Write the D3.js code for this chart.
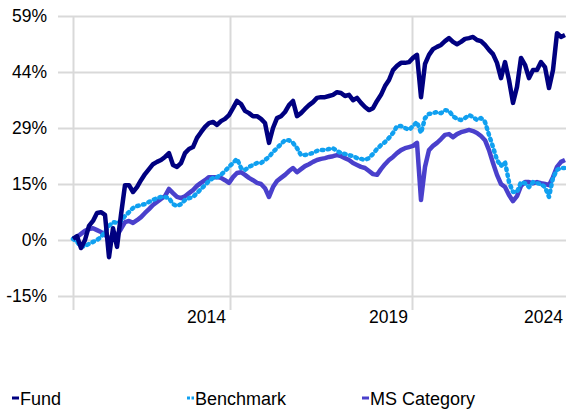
<!DOCTYPE html>
<html>
<head>
<meta charset="utf-8">
<script src="https://cdn.jsdelivr.net/npm/d3@7"></script>
<style>
  body { margin: 0; background: #fff; }
  svg { display: block; font-family: "Liberation Sans", Arial, sans-serif; }
</style>
</head>
<body>
<svg></svg>
<script>
var width = 566;
var height = 410;

// cumulative return (%), evenly spaced observations
var fund = [0.3, 1.0, -2.1, 0, 3.7, 5.0, 7.1, 7.3, 6.6, -4.5, 3.1, -1.8, 6.6, 14.4, 14.4, 12.6,
  13.9, 15.7, 17.3, 18.6, 19.9, 20.5, 21.0, 21.8, 22.8, 19.7, 19.2, 20.2, 22.8, 23.9, 24.4, 26.8,
  28.3, 29.7, 30.7, 31.0, 30.2, 31.2, 31.8, 32.8, 34.6, 36.5, 35.7, 33.9, 33.3, 32.5, 32.5, 31.8,
  30.7, 25.5, 29.4, 32.0, 32.5, 33.6, 35.4, 36.5, 32.5, 33.3, 34.4, 35.4, 36.2, 37.3, 37.5, 37.5,
  37.8, 38.1, 38.8, 38.6, 37.8, 38.1, 36.7, 37.3, 36.0, 34.9, 34.1, 34.6, 36.5, 38.1, 40.4, 42.0,
  44.6, 45.7, 46.5, 46.5, 46.7, 47.8, 48.6, 37.5, 46.2, 48.6, 50.1, 50.7, 51.2, 52.2, 53.0, 52.0,
  51.4, 52.0, 52.8, 53.0, 53.3, 52.5, 52.2, 51.2, 49.9, 48.8, 46.5, 42.5, 46.7, 42.0, 36.0, 40.2,
  47.8, 46.0, 42.5, 44.6, 44.6, 46.7, 45.4, 39.9, 44.6, 54.3, 53.3, 53.8];

var benchmark = [0.3, -0.5, -1.8, -1.6, -1.0, -0.5, 0, 0.8, 2.1, 3.7, 4.7, 4.5, 5.0, 6.3, 7.3, 8.4,
  8.9, 9.2, 9.4, 10.0, 10.5, 11.0, 11.3, 11.3, 11.0, 9.4, 8.9, 9.4, 10.5, 11.0, 11.3, 12.3,
  13.4, 14.4, 15.5, 16.3, 16.5, 17.1, 18.1, 19.2, 20.2, 21.3, 18.9, 18.4, 19.2, 19.7, 20.2, 20.2,
  21.0, 21.8, 23.1, 24.1, 25.2, 26.2, 26.2, 25.5, 24.1, 22.3, 22.3, 22.6, 22.8, 23.4, 23.6, 23.6,
  23.9, 24.1, 23.4, 22.8, 22.6, 22.3, 22.0, 21.5, 21.3, 21.0, 21.5, 22.6, 23.9, 24.9, 25.7, 26.8,
  28.1, 29.9, 29.9, 29.4, 28.9, 29.9, 31.0, 28.1, 32.0, 33.1, 33.3, 33.6, 33.3, 34.1, 33.9, 32.5,
  31.8, 31.5, 32.0, 32.8, 32.3, 31.5, 32.0, 31.0, 27.6, 24.4, 21.0, 19.4, 20.5, 15.2, 12.6, 12.6,
  15.2, 14.9, 13.9, 15.2, 14.9, 14.7, 13.9, 11.3, 16.3, 18.4, 18.9, 18.9];

var msCategory = [0.3, 0.8, 1.6, 2.4, 2.9, 3.1, 2.6, 2.1, 1.3, 0.5, 0.8, 1.3, 2.9, 4.7, 5.0, 4.5,
  5.2, 6.0, 7.1, 8.1, 9.2, 10.0, 10.8, 11.5, 13.4, 12.3, 11.3, 11.0, 11.5, 12.3, 13.1, 14.2,
  15.0, 15.7, 16.5, 16.5, 16.5, 16.3, 15.7, 15.0, 16.5, 17.6, 17.8, 17.1, 16.3, 15.7, 15.0, 14.7,
  13.6, 11.3, 13.9, 15.5, 16.3, 17.1, 18.1, 18.9, 17.8, 18.6, 19.4, 19.9, 20.5, 21.0, 21.3, 21.5,
  21.8, 22.0, 22.3, 22.0, 21.5, 21.0, 20.2, 19.7, 19.2, 18.9, 18.1, 17.3, 17.1, 18.6, 19.9, 21.0,
  21.8, 22.8, 23.6, 24.1, 24.4, 24.7, 25.5, 10.5, 19.2, 23.6, 24.7, 25.5, 26.5, 27.6, 27.8, 27.0,
  27.8, 28.3, 28.6, 28.9, 28.6, 28.1, 27.3, 26.2, 23.6, 20.2, 17.1, 14.7, 13.9, 11.8, 10.2, 11.5,
  14.2, 15.2, 15.2, 14.9, 15.2, 14.9, 14.7, 14.4, 16.5, 19.2, 20.5, 21.0];

var yTicks = [-14.7, 0, 14.7, 29.4, 44.1, 58.8];
var xTickIdx = [0, 39.25, 84.75, 123.5];
var xLabelIdx = [39.25, 84.75, 123.5];
var xLabels = ["2014", "2019", "2024"];

var seriesNames = ["Fund", "Benchmark", "MS Category"];
var seriesColors = ["#000080", "#10a0f0", "#4a40cc"];

var svg = d3.select("svg")
    .attr("width", width)
    .attr("height", height);

var xScale = d3.scaleLinear()
    .domain([0, fund.length - 1])
    .range([73, 565]);

var yScale = d3.scaleLinear()
    .domain([-14.7, 58.8])
    .range([296, 16]);

// horizontal grid + y labels
var yAxis = svg.append("g")
    .attr("transform", "translate(58,0)")
    .call(d3.axisLeft(yScale)
            .tickValues(yTicks)
            .tickSize(-(width - 58))
            .tickPadding(11)
            .tickFormat(d => Math.round(d) + "%"));

// vertical grid
var xAxis = svg.append("g")
    .attr("transform", "translate(0,310)")
    .call(d3.axisBottom(xScale)
            .tickValues(xTickIdx)
            .tickSize(-294)
            .tickFormat(""));

svg.selectAll(".domain").remove();
svg.selectAll(".tick line")
    .attr("stroke", "#d9d9d9")
    .attr("stroke-width", 2);
yAxis.selectAll("text")
    .attr("fill", "#000")
    .style("font-size", "17.5px")
    .style("font-family", "Liberation Sans, Arial, sans-serif");

svg.append("g")
  .selectAll("text")
  .data(xLabels)
  .enter()
    .append("text")
    .attr("x", (d, i) => xScale(xLabelIdx[i]) - 4)
    .attr("y", 323)
    .style("text-anchor", "end")
    .style("font-size", "17.5px")
    .text(d => d);

var line = d3.line()
    .x((d, i) => xScale(i))
    .y(d => yScale(d));

// category under benchmark under fund
svg.append("path")
    .datum(msCategory)
    .attr("fill", "none")
    .attr("stroke", seriesColors[2])
    .attr("stroke-width", 4.5)
    .attr("stroke-linejoin", "round")
    .attr("d", line);

svg.append("path")
    .datum(benchmark)
    .attr("fill", "none")
    .attr("stroke", seriesColors[1])
    .attr("stroke-width", 4.5)
    .attr("stroke-linecap", "round")
    .attr("stroke-linejoin", "round")
    .attr("stroke-dasharray", "1.5,4.5")
    .attr("d", line);

svg.append("path")
    .datum(fund)
    .attr("fill", "none")
    .attr("stroke", seriesColors[0])
    .attr("stroke-width", 4.5)
    .attr("stroke-linejoin", "round")
    .attr("d", line);

// legend
var legendX = [12, 187, 362];
var legend = svg.append("g")
  .selectAll("g")
  .data(seriesNames)
  .enter()
    .append("g")
    .attr("transform", (d, i) => "translate(" + legendX[i] + ",0)");

legend.append("line")
    .attr("x1", 0)
    .attr("x2", 7)
    .attr("y1", 398)
    .attr("y2", 398)
    .attr("stroke", (d, i) => seriesColors[i])
    .attr("stroke-width", 3)
    .attr("stroke-dasharray", (d, i) => i === 1 ? "3,1.5" : null);

legend.append("text")
    .attr("x", 8)
    .attr("y", 405)
    .style("font-size", "18px")
    .text(d => d);
</script>
</body>
</html>
